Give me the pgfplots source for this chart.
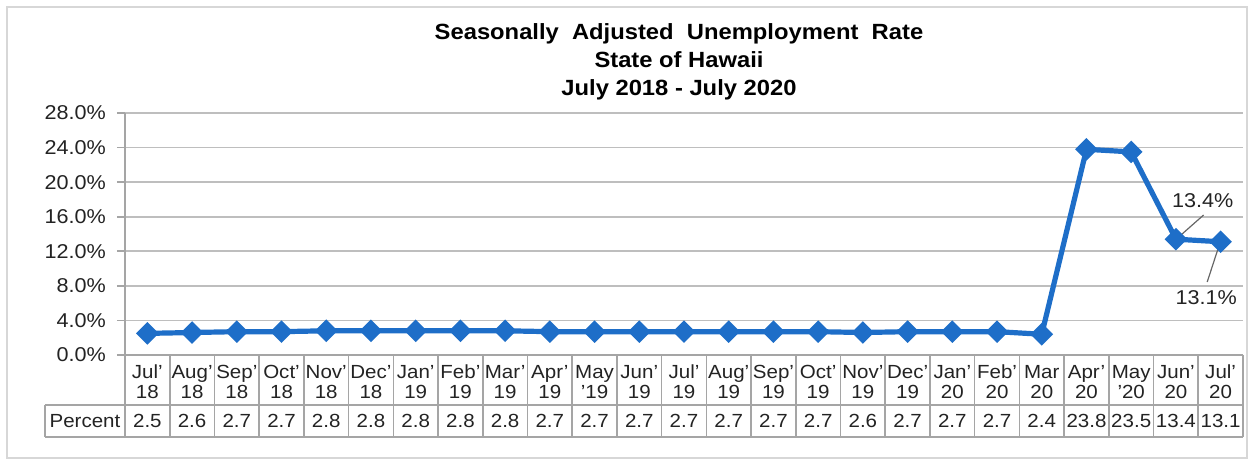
\documentclass[border=0pt]{standalone}
\usepackage{fontspec}
\setmainfont{Liberation Sans}[FakeStretch=1.08]
\usepackage{pgfplots}
\pgfplotsset{compat=1.18}
\usepackage{pgfplotstable}
\definecolor{lineblue}{RGB}{30,110,200}
\definecolor{gridgray}{RGB}{190,190,190}
\definecolor{tabgray}{RGB}{165,165,165}
\definecolor{txt}{RGB}{35,35,35}
\definecolor{framegray}{RGB}{215,215,215}

\pgfplotstableread{
x v
0 2.5
1 2.6
2 2.7
3 2.7
4 2.8
5 2.8
6 2.8
7 2.8
8 2.8
9 2.7
10 2.7
11 2.7
12 2.7
13 2.7
14 2.7
15 2.7
16 2.6
17 2.7
18 2.7
19 2.7
20 2.4
21 23.8
22 23.5
23 13.4
24 13.1
}\data

\begin{document}
\begin{tikzpicture}
\path[use as bounding box] (0pt,0pt) rectangle (625pt,230pt);
\draw[framegray, line width=0.8pt] (3.5pt,1pt) rectangle (623.5pt,226.5pt);
\node[font=\bfseries\fontsize{11}{14}\selectfont, align=center, text=black] at (339.5pt,199pt) {Seasonally\ \ Adjusted\ \ Unemployment\ \ Rate\\State of Hawaii\\July 2018 - July 2020};
\begin{axis}[
  at={(62.5pt,52.5pt)}, anchor=south west,
  width=559pt, height=121pt, scale only axis,
  xmin=-0.5, xmax=24.5, ymin=0, ymax=28,
  clip=false,
  separate axis lines,
  axis x line*=bottom, axis y line*=left,
  axis line style={tabgray, line width=0.8pt},
  ytick={0,4,...,28},
  ymajorgrids,
  grid style={gridgray, line width=0.8pt},
  tick align=outside,
  major tick length=4pt,
  ytick style={tabgray, line width=0.8pt},
  xtick={0,...,24},
  xtick style={draw=none},
  xticklabels={Jul'\\18, Aug'\\18, Sep'\\18, Oct'\\18, Nov'\\18, Dec'\\18, Jan'\\19, Feb'\\19, Mar'\\19, Apr'\\19, May\\'19, Jun'\\19, Jul'\\19, Aug'\\19, Sep'\\19, Oct'\\19, Nov'\\19, Dec'\\19, Jan'\\20, Feb'\\20, Mar\\20, Apr'\\20, May\\'20, Jun'\\20, Jul'\\20},
  xticklabel style={align=center, font=\fontsize{9.5}{10}\selectfont, text=txt, anchor=north, inner sep=0.8pt},
  yticklabel={\pgfmathprintnumber[fixed,fixed zerofill,precision=1]{\tick}\%},
  /pgf/number format/assume math mode=true,
  yticklabel style={font=\fontsize{10}{11}\selectfont, text=txt, xshift=-2pt},
]
\pgfplotsinvokeforeach{0,...,25}{
  \draw[tabgray, line width=0.8pt] (axis cs:#1-0.5,0) -- (axis cs:#1-0.5,-9.49);
}
\draw[tabgray, line width=0.8pt] (axis cs:-2.29,-5.79) -- (axis cs:24.5,-5.79);
\draw[tabgray, line width=0.8pt] (axis cs:-2.29,-9.49) -- (axis cs:24.5,-9.49);
\draw[tabgray, line width=0.8pt] (axis cs:-2.29,-5.79) -- (axis cs:-2.29,-9.49);
\node[font=\fontsize{9.5}{10}\selectfont, text=txt] at (axis cs:-1.395,-7.64) {Percent};

\addplot[draw=none, mark=none, nodes near coords, point meta=explicit symbolic,
  nodes near coords style={anchor=center, font=\fontsize{9.5}{10}\selectfont, text=txt, inner sep=0pt}]
  table[x=x, y expr=-7.64, meta=v] {\data};

\addplot[lineblue, line width=2.6pt, mark=square*, mark size=2.7pt, mark options={rotate=45, solid, fill=lineblue}]
  table[x=x, y=v] {\data};

\draw[black!60, line width=0.6pt] (axis cs:23.05,13.6) -- (axis cs:23.62,16.2);
\node[font=\fontsize{10}{11}\selectfont, text=txt] at (axis cs:23.6,17.9) {13.4\%};
\draw[black!60, line width=0.6pt] (axis cs:23.98,12.9) -- (axis cs:23.7,8.45);
\node[font=\fontsize{10}{11}\selectfont, text=txt] at (axis cs:23.68,6.6) {13.1\%};
\end{axis}
\end{tikzpicture}
\end{document}
